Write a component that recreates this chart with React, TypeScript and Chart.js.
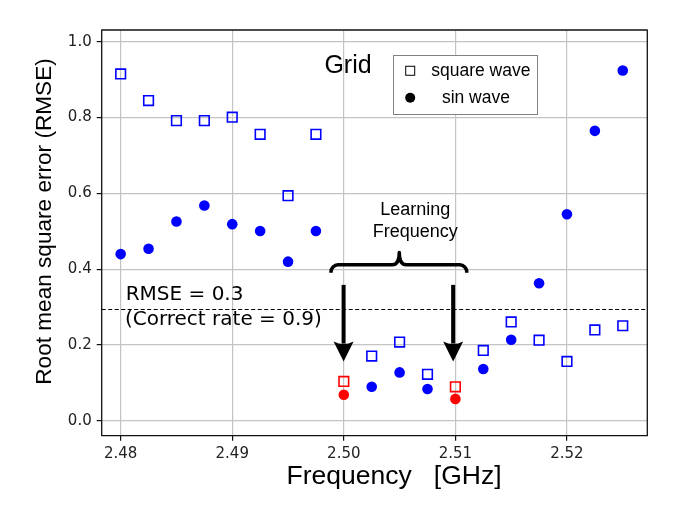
import React, { useEffect, useRef } from 'react';
import { Chart, registerables } from 'chart.js';

Chart.register(...registerables);

// ---- Data ----
const frequencies = [
  2.48, 2.4825, 2.485, 2.4875, 2.49, 2.4925, 2.495, 2.4975, 2.5, 2.5025,
  2.505, 2.5075, 2.51, 2.5125, 2.515, 2.5175, 2.52, 2.5225, 2.525,
];
const squareWaveRmse = [
  0.915, 0.845, 0.792, 0.792, 0.801, 0.756, 0.594, 0.756, 0.104, 0.171,
  0.208, 0.123, 0.09, 0.186, 0.261, 0.213, 0.157, 0.24, 0.251,
];
const sinWaveRmse = [
  0.44, 0.454, 0.526, 0.568, 0.519, 0.501, 0.42, 0.501, 0.069, 0.09,
  0.128, 0.084, 0.058, 0.137, 0.214, 0.363, 0.545, 0.765, 0.924,
];
const learningFrequencies = [2.5, 2.51];
const xTickValues = [2.48, 2.49, 2.5, 2.51, 2.52];
const yTickValues = [0.0, 0.2, 0.4, 0.6, 0.8, 1.0];
const seriesLabels = ['square wave', 'sin wave'];
const thresholdRmse = 0.295;
const thresholdLabels = ['RMSE = 0.3', '(Correct rate = 0.9)'];
const learningLabel = ['Learning', 'Frequency'];
const gridLabel = 'Grid';
const xTitle = 'Frequency   [GHz]';
const yTitle = 'Root mean square error (RMSE)';

const BLUE = '#0000ff';
const RED = '#ff0000';
const SANS = '"Liberation Sans", Arial, sans-serif';
const DEJAVU = '"DejaVu Sans", sans-serif';

const pointColor = (ctx: any) => {
  const raw = ctx.raw as { x: number } | undefined;
  if (!raw) return BLUE;
  return learningFrequencies.some((f) => Math.abs(f - raw.x) < 1e-6) ? RED : BLUE;
};

const annotationPlugin = {
  id: 'annotations',
  afterDatasetsDraw(chart: any) {
    const { ctx, chartArea: a, scales } = chart;
    const x = scales.x;
    const y = scales.y;
    const px = (v: number) => x.getPixelForValue(v);
    const py = (v: number) => y.getPixelForValue(v);
    ctx.save();

    // threshold dashed line
    const ty = Math.round(py(thresholdRmse)) + 0.5;
    ctx.strokeStyle = '#000';
    ctx.lineWidth = 1;
    ctx.setLineDash([4, 2.5]);
    ctx.beginPath();
    ctx.moveTo(a.left, ty);
    ctx.lineTo(a.right, ty);
    ctx.stroke();
    ctx.setLineDash([]);

    // threshold text
    ctx.fillStyle = '#000';
    ctx.font = `20px ${DEJAVU}`;
    ctx.textAlign = 'left';
    ctx.textBaseline = 'middle';
    ctx.fillText(thresholdLabels[0], px(2.48045), py(0.3325));
    ctx.fillText(thresholdLabels[1], px(2.48038), py(0.2665));

    // "Grid" text
    ctx.font = `25px ${SANS}`;
    ctx.fillText(gridLabel, px(2.49826), py(0.935));

    // Legend
    const lx0 = px(2.5044), lx1 = px(2.51729);
    const ly0 = py(0.9657), ly1 = py(0.81);
    ctx.fillStyle = '#fff';
    ctx.fillRect(lx0, ly0, lx1 - lx0, ly1 - ly0);
    ctx.strokeStyle = '#808080';
    ctx.lineWidth = 1;
    ctx.strokeRect(Math.round(lx0) + 0.5, Math.round(ly0) + 0.5, Math.round(lx1 - lx0), Math.round(ly1 - ly0));
    const mx = px(2.50595);
    const my0 = py(0.9235);
    const my1 = py(0.8522);
    ctx.strokeStyle = '#000';
    ctx.lineWidth = 1;
    ctx.strokeRect(mx - 4.5, my0 - 4.5, 9, 9);
    ctx.fillStyle = '#000';
    ctx.beginPath();
    ctx.arc(mx, my1, 5, 0, Math.PI * 2);
    ctx.fill();
    ctx.font = `17.5px ${SANS}`;
    ctx.fillText(seriesLabels[0], px(2.50783), my0);
    ctx.fillText(seriesLabels[1], px(2.50879), my1);

    // Learning Frequency text
    ctx.font = `18px ${SANS}`;
    ctx.textAlign = 'center';
    ctx.fillText(learningLabel[0], px(2.5064), py(0.5549));
    ctx.fillText(learningLabel[1], px(2.5064), py(0.4979));

    // Brace
    const xL = px(2.49885), xR = px(2.51102), xC = px(2.50497);
    const yEnd = py(0.3905), yMid = py(0.4116), yTip = py(0.444);
    const r = 7;
    ctx.strokeStyle = '#000';
    ctx.lineWidth = 3.5;
    ctx.lineJoin = 'round';
    ctx.beginPath();
    ctx.moveTo(xL, yEnd);
    ctx.arcTo(xL, yMid, xL + r, yMid, r);
    ctx.lineTo(xC - r, yMid);
    ctx.quadraticCurveTo(xC, yMid, xC, yTip);
    ctx.quadraticCurveTo(xC, yMid, xC + r, yMid);
    ctx.lineTo(xR - r, yMid);
    ctx.arcTo(xR, yMid, xR, yEnd, r);
    ctx.lineTo(xR, yEnd);
    ctx.stroke();

    // Arrows
    const drawArrow = (fx: number) => {
      const ax = px(fx);
      const yStart = py(0.3588);
      const yTipA = py(0.1565);
      const yBase = py(0.2092);
      ctx.lineWidth = 4;
      ctx.beginPath();
      ctx.moveTo(ax, yStart);
      ctx.lineTo(ax, yBase + 2);
      ctx.stroke();
      ctx.beginPath();
      ctx.moveTo(ax, yTipA);
      ctx.lineTo(ax - 10, yBase);
      ctx.quadraticCurveTo(ax, yBase + 5, ax + 10, yBase);
      ctx.closePath();
      ctx.fillStyle = '#000';
      ctx.fill();
    };
    drawArrow(2.49998);
    drawArrow(2.5098);

    // spines
    ctx.strokeStyle = '#111';
    ctx.lineWidth = 1.3;
    ctx.strokeRect(a.left, a.top, a.right - a.left, a.bottom - a.top);

    // axis titles
    ctx.fillStyle = '#000';
    ctx.font = `26.5px ${SANS}`;
    ctx.textAlign = 'center';
    ctx.textBaseline = 'middle';
    ctx.fillText(xTitle, a.left + 292.3, a.bottom + 41.3);

    ctx.save();
    ctx.translate(a.left - 56.7, a.top + 191.5);
    ctx.rotate(-Math.PI / 2);
    ctx.font = `22.6px ${SANS}`;
    ctx.fillText(yTitle, 0, 0);
    ctx.restore();

    ctx.restore();
  },
};

export default function App() {
  const canvasRef = useRef<HTMLCanvasElement | null>(null);

  useEffect(() => {
    const canvas = canvasRef.current;
    if (!canvas) return;
    const chart = new Chart(canvas, {
      type: 'scatter',
      data: {
        datasets: [
          {
            label: seriesLabels[0],
            data: frequencies.map((f, i) => ({ x: f, y: squareWaveRmse[i] })),
            pointStyle: 'rect',
            pointRadius: 6.8,
            pointHoverRadius: 6.8,
            pointBackgroundColor: 'rgba(0,0,0,0)',
            pointBorderColor: pointColor,
            pointBorderWidth: 1.6,
          },
          {
            label: seriesLabels[1],
            data: frequencies.map((f, i) => ({ x: f, y: sinWaveRmse[i] })),
            pointStyle: 'circle',
            pointRadius: 5.3,
            pointHoverRadius: 5.3,
            pointBackgroundColor: pointColor,
            pointBorderColor: pointColor,
            pointBorderWidth: 0,
          },
        ],
      },
      options: {
        animation: false,
        responsive: false,
        devicePixelRatio: 1,
        layout: { padding: { top: 30, right: 28.7, left: 0, bottom: 0 } },
        plugins: { legend: { display: false }, tooltip: { enabled: false } },
        events: [],
        scales: {
          x: {
            type: 'linear',
            min: 2.4783,
            max: 2.5272,
            afterBuildTicks: (s: any) => {
              s.ticks = xTickValues.map((v) => ({ value: v }));
            },
            afterFit: (s: any) => {
              s.height = 73.3;
            },
            grid: { color: '#c4c4c4', lineWidth: 1.2, tickColor: '#111', tickLength: 5, drawTicks: true },
            border: { display: false },
            ticks: {
              font: { family: DEJAVU, size: 15 },
              color: '#222',
              padding: 4,
              maxRotation: 0,
              autoSkip: false,
              callback: (v: any) => Number(v).toFixed(2),
            },
          },
          y: {
            type: 'linear',
            min: -0.039,
            max: 1.031,
            afterBuildTicks: (s: any) => {
              s.ticks = yTickValues.map((v) => ({ value: v }));
            },
            afterFit: (s: any) => {
              s.width = 101.7;
            },
            grid: { color: '#c4c4c4', lineWidth: 1.2, tickColor: '#111', tickLength: 5, drawTicks: true },
            border: { display: false },
            ticks: {
              font: { family: DEJAVU, size: 15 },
              color: '#222',
              padding: 5,
              autoSkip: false,
              callback: (v: any) => Number(v).toFixed(1),
            },
          },
        },
      },
      plugins: [annotationPlugin],
    });
    return () => chart.destroy();
  }, []);

  return (
    <div style={{ position: 'fixed', left: 0, top: 0, width: 676, height: 509, background: '#fff' }}>
      <canvas ref={canvasRef} width={676} height={509} style={{ display: 'block' }} />
    </div>
  );
}
